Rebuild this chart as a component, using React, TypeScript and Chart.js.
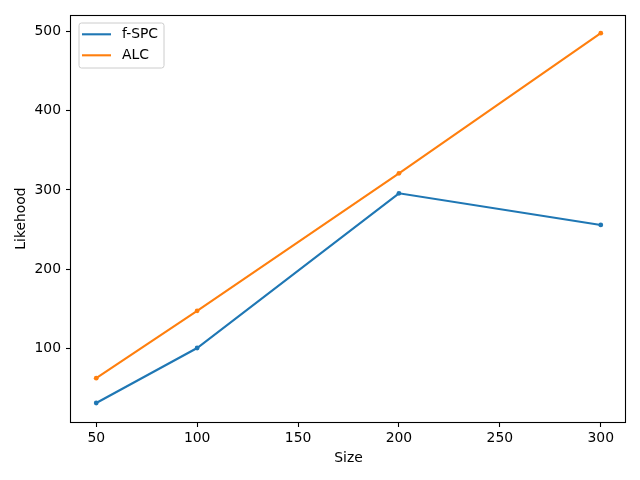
import React, { useEffect, useRef } from "react";
import { Chart, registerables } from "chart.js";

Chart.register(...registerables);

const sizes = [50, 100, 200, 300];
const fSPC = [31.7, 101, 295.8, 256];
const alc = [63, 147.8, 321, 497.5];
const xTicks = [50, 100, 150, 200, 250, 300];
const yTicks = [100, 200, 300, 400, 500];
const seriesLabels = ["f-SPC", "ALC"];
const seriesColors = ["#1f77b4", "#ff7f0e"];

const FONT = "DejaVu Sans";
const FS = 13.9;

const framePlugin = {
  id: "frame",
  afterDraw(chart: any) {
    const { ctx, chartArea } = chart;
    const { left, top, right, bottom } = chartArea;
    ctx.save();
    ctx.strokeStyle = "#000";
    ctx.lineWidth = 1.1;
    ctx.strokeRect(Math.round(left) - 0.5, Math.round(top) + 0.5, Math.round(right - left), Math.round(bottom - top));
    ctx.restore();

    // matplotlib-style legend
    const x0 = left + 8;
    const y0 = top + 8;
    const w = 85;
    const h = 45;
    ctx.save();
    ctx.fillStyle = "rgba(255,255,255,0.8)";
    ctx.strokeStyle = "#cccccc";
    ctx.lineWidth = 1;
    const r = 2.5;
    ctx.beginPath();
    ctx.moveTo(x0 + r, y0);
    ctx.lineTo(x0 + w - r, y0);
    ctx.arcTo(x0 + w, y0, x0 + w, y0 + r, r);
    ctx.lineTo(x0 + w, y0 + h - r);
    ctx.arcTo(x0 + w, y0 + h, x0 + w - r, y0 + h, r);
    ctx.lineTo(x0 + r, y0 + h);
    ctx.arcTo(x0, y0 + h, x0, y0 + h - r, r);
    ctx.lineTo(x0, y0 + r);
    ctx.arcTo(x0, y0, x0 + r, y0, r);
    ctx.closePath();
    ctx.fill();
    ctx.stroke();
    chart.data.datasets.forEach((ds: any, i: number) => {
      const ly = y0 + 11.3 + i * 21;
      ctx.strokeStyle = ds.borderColor;
      ctx.lineWidth = 2.1;
      ctx.beginPath();
      ctx.moveTo(x0 + 3, ly);
      ctx.lineTo(x0 + 32, ly);
      ctx.stroke();
      ctx.fillStyle = "#000";
      ctx.font = `${FS}px "${FONT}"`;
      ctx.textBaseline = "middle";
      ctx.textAlign = "left";
      ctx.fillText(ds.label, x0 + 43, ly + 0.5);
    });
    ctx.restore();
  },
};

export default function App() {
  const ref = useRef<HTMLCanvasElement>(null);
  useEffect(() => {
    if (!ref.current) return;
    const mk = (vals: number[], i: number) => ({
      label: seriesLabels[i],
      data: sizes.map((s, k) => ({ x: s, y: vals[k] })),
      borderColor: seriesColors[i],
      backgroundColor: seriesColors[i],
      borderWidth: 2.1,
      pointRadius: 2.4,
      pointBorderWidth: 0,
      pointHoverRadius: 2.4,
      tension: 0,
    });
    const chart = new Chart(ref.current, {
      type: "line",
      data: { datasets: [mk(fSPC, 0), mk(alc, 1)] },
      options: {
        responsive: false,
        animation: false,
        layout: { padding: { left: 0, top: 15, right: 14, bottom: 0 } },
        plugins: { legend: { display: false }, tooltip: { enabled: false } },
        scales: {
          x: {
            type: "linear",
            min: 37.5,
            max: 312.5,
            afterBuildTicks: (axis: any) => {
              axis.ticks = xTicks.map((v) => ({ value: v }));
            },
            afterFit: (axis: any) => {
              axis.height = 58;
            },
            grid: { display: true, drawOnChartArea: false, drawTicks: true, tickLength: 5, tickColor: "#000", tickWidth: 1.1 },
            border: { display: false },
            ticks: { color: "#000", font: { family: FONT, size: FS }, padding: 3, maxRotation: 0, autoSkip: false },
            title: { display: true, text: "Size", color: "#000", font: { family: FONT, size: FS }, padding: { top: 0, bottom: 13 } },
          },
          y: {
            type: "linear",
            min: 7.8,
            max: 520.4,
            afterBuildTicks: (axis: any) => {
              axis.ticks = yTicks.map((v) => ({ value: v }));
            },
            afterFit: (axis: any) => {
              axis.width = 71;
            },
            grid: { display: true, drawOnChartArea: false, drawTicks: true, tickLength: 5, tickColor: "#000", tickWidth: 1.1 },
            border: { display: false },
            ticks: { color: "#000", font: { family: FONT, size: FS }, padding: 5, autoSkip: false },
            title: { display: true, text: "Likehood", color: "#000", font: { family: FONT, size: FS }, padding: { top: 13, bottom: 0 } },
          },
        },
      },
      plugins: [framePlugin],
    });
    return () => chart.destroy();
  }, []);
  return (
    <div style={{ position: "absolute", left: 0, top: 0, width: 640, height: 480, background: "#fff" }}>
      <canvas ref={ref} width={640} height={480} style={{ display: "block" }} />
    </div>
  );
}
